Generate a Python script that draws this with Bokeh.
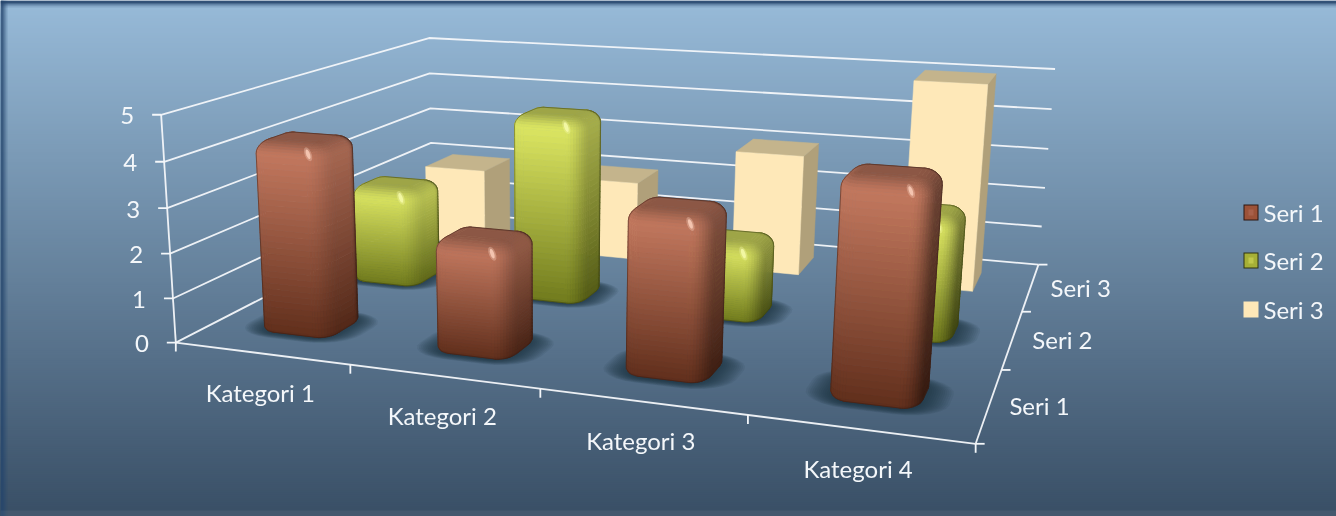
import numpy as np
from bokeh.plotting import figure
from bokeh.models import Range1d
from bokeh.core.properties import value
from bokeh.embed import file_html
from bokeh.resources import INLINE

categories = ["Kategori 1", "Kategori 2", "Kategori 3", "Kategori 4"]
series_names = ["Seri 1", "Seri 2", "Seri 3"]
seri_1 = [4.3, 2.5, 3.5, 4.5]
seri_2 = [2.4, 4.4, 1.8, 2.8]
seri_3 = [2.0, 2.0, 3.0, 5.0]
value_ticks = [0, 1, 2, 3, 4, 5]

FONT = "Lato"
FS = "24px"
WHITE = "#f4f7fa"

# camera calibration: (category, depth, value) -> page pixel
calib = [
    ((0, 0, 0), (175, 342)), ((1, 0, 0), (350, 364)), ((2, 0, 0), (540, 388)),
    ((3, 0, 0), (747, 415)), ((4, 0, 0), (975, 444)), ((4, 1, 0), (1002, 369)),
    ((4, 2, 0), (1021, 311)), ((4, 3, 0), (1037, 264)), ((0, 3, 0), (431, 212)),
    ((0, 0, 5), (160, 115)), ((0, 0, 4), (163, 162)), ((0, 0, 3), (167, 208)),
    ((0, 0, 2), (170, 252)), ((0, 0, 1), (173, 297)), ((0, 3, 5), (429, 37)),
    ((0, 3, 4), (429, 73)), ((0, 3, 3), (430, 107)), ((0, 3, 2), (431, 142)),
    ((4, 3, 5), (1054, 69)), ((4, 3, 4), (1051, 109)), ((4, 3, 3), (1048, 148)),
    ((4, 3, 2), (1045, 187)), ((4, 3, 1), (1042, 226)),
]
rows = []
for (x, z, y), (u, v) in calib:
    u, v = u / 1000, v / 1000
    rows.append([x, z, y, 1, 0, 0, 0, 0, -u * x, -u * z, -u * y, -u])
    rows.append([0, 0, 0, 0, x, z, y, 1, -v * x, -v * z, -v * y, -v])
_, _, vt = np.linalg.svd(np.array(rows, float))
M = vt[-1].reshape(3, 4)


def proj(x, z, y):
    q = M @ np.array([x, z, y, 1.0])
    return 1000 * q[0] / q[2], 1000 * q[1] / q[2]


def lerp(a, b, t):
    return tuple(a[i] + (b[i] - a[i]) * t for i in range(3))


def hexc(c):
    return "#%02x%02x%02x" % tuple(int(max(0, min(255, round(v)))) for v in c)


p = figure(width=1336, height=516, x_range=Range1d(0, 1336), y_range=Range1d(516, 0),
           output_backend="svg", toolbar_location=None, min_border=0,
           x_axis_type=None, y_axis_type=None, outline_line_color=None)
p.xgrid.visible = False
p.ygrid.visible = False
p.styles = {"position": "fixed", "left": "0", "top": "0"}

# background: each band runs to the page bottom, so no seams show
TOP = (150, 185, 215)
BOT = (58, 80, 103)
ys = np.arange(0, 516, 2)
p.quad(left=0, right=1336, top=ys, bottom=516,
       fill_color=[hexc(lerp(TOP, BOT, min(1, max(0, (y - 6) / 502)))) for y in ys], line_color=None)
# frame glow
FR = "#25466c"
for w, a in [(3, 0.55), (5, 0.35), (7, 0.2)]:
    p.quad(left=0, right=w, top=0, bottom=516, fill_color=FR, fill_alpha=a, line_color=None)
for w, a in [(3, 0.8), (5, 0.35), (7, 0.15)]:
    p.quad(left=0, right=1336, top=0, bottom=w, fill_color=FR, fill_alpha=a, line_color=None)
p.quad(left=0, right=1336, top=510, bottom=516, fill_color="#ffffff", fill_alpha=0.05, line_color=None)


def seg(a, b, w=1.8):
    ua, va = proj(*a)
    ub, vb = proj(*b)
    p.line([ua, ub], [va, vb], line_color=WHITE, line_width=w, line_alpha=0.95)


for v in value_ticks:
    pts = [proj(0, 0, v), proj(0, 3, v), proj(4, 3, v)]
    p.line([q[0] for q in pts], [q[1] for q in pts], line_color=WHITE, line_width=1.8, line_alpha=0.95)
    u0, v0 = pts[0]
    p.line([u0 - 9, u0], [v0, v0], line_color=WHITE, line_width=1.8)
    p.text([u0 - 27], [v0 + 1], text=[str(v)], text_font=value(FONT), text_font_size=FS,
           text_color=WHITE, text_align="right", text_baseline="middle")
seg((0, 0, 0), (0, 0, 5))
seg((0, 0, 0), (4, 0, 0))
seg((4, 0, 0), (4, 3, 0))
for i in range(5):
    u0, v0 = proj(i, 0, 0)
    p.line([u0, u0], [v0, v0 + 9], line_color=WHITE, line_width=1.8)
for i in range(4):
    u0, v0 = proj(4, i, 0)
    p.line([u0, u0 + 9], [v0, v0], line_color=WHITE, line_width=1.8)
for i, c in enumerate(categories):
    u0, v0 = proj(i + 0.5, 0, 0)
    p.text([u0 - 1], [v0 + 39], text=[c], text_font=value(FONT), text_font_size=FS, text_color=WHITE,
           text_align="center", text_baseline="middle")
for i, c in enumerate(series_names):
    u0, v0 = proj(4, i + 0.5, 0)
    p.text([u0 + 20], [v0 + 0.5], text=[c], text_font=value(FONT), text_font_size=FS, text_color=WHITE,
           text_align="left", text_baseline="middle")

# bar geometry
BW = 0.4
BD = 0.4
BEV_W = 0.425
RX = 0.09
RZ = 0.13
RY = 0.3
RB = 0.16
BASE = -0.08
PAL = {
    0: dict(top=(200, 124, 98), bot=(96, 46, 27), edge="#3a2018", spec=(250, 205, 185)),
    1: dict(top=(226, 236, 102), bot=(112, 122, 28), edge="#3c4210", spec=(246, 250, 170)),
}
CREAM = dict(front="#fee8b8", right="#b0a07a", top="#c4b48c")
values_by_series = [seri_1, seri_2, seri_3]


def ring(x0, x1, z0, z1, rx, rz, n=10):
    out = []
    corners = [(x1 - rx, z0 + rz, 0), (x1 - rx, z1 - rz, 90), (x0 + rx, z1 - rz, 180), (x0 + rx, z0 + rz, 270)]
    for cx, cz, a0 in corners:
        for k in range(n + 1):
            a = np.radians(a0 + 90 * k / n)
            out.append((cx, cz, np.sin(a), -np.cos(a)))
    return out


def hull(pts):
    pts = sorted(set(pts))

    def half(ps):
        h = []
        for q in ps:
            while len(h) > 1 and (h[-1][0] - h[-2][0]) * (q[1] - h[-2][1]) - (h[-1][1] - h[-2][1]) * (q[0] - h[-2][0]) <= 0:
                h.pop()
            h.append(q)
        return h[:-1]

    return half(pts) + half(pts[::-1])


def bevel_bar(ci, si, h):
    pal = PAL[si]
    cx, cz = ci + 0.5, si + 0.5
    x0, x1, z0, z1 = cx - BEV_W / 2, cx + BEV_W / 2, cz - BD / 2, cz + BD / 2
    h = h - 0.02
    rg = ring(x0, x1, z0, z1, RX, RZ)
    levels = []
    for t in np.linspace(-90, 0, 5):
        th = np.radians(t)
        levels.append((np.cos(th), BASE + RB * (1 + np.sin(th)), np.sin(th)))
    for y in np.linspace(BASE + RB, h - RY, 30)[1:-1]:
        levels.append((1.0, y, 0.0))
    for t in np.linspace(0, 90, 9):
        th = np.radians(t)
        levels.append((np.cos(th), h - RY + RY * np.sin(th), np.sin(th)))
    grid = [[proj(c[0] + RX * k * c[2], c[1] + RZ * k * c[3], y) for c in rg] for k, y, _ in levels]
    n = len(rg)

    def area(a, b, c, d):
        q = [a, b, c, d]
        return sum(q[i][0] * q[(i + 1) % 4][1] - q[(i + 1) % 4][0] * q[i][1] for i in range(4)) / 2

    jm = len(levels) // 2
    sign = np.sign(area(grid[jm][n - 1], grid[jm][0], grid[jm + 1][0], grid[jm + 1][n - 1]))
    right_w = 0.85 - 0.1 * ci
    xs, ys_, cols = [], [], []
    for j in range(len(levels) - 1):
        for i in range(n):
            i2 = (i + 1) % n
            A, B, C, D = grid[j][i], grid[j][i2], grid[j + 1][i2], grid[j + 1][i]
            if area(A, B, C, D) * sign <= 1e-6:
                continue
            nx = (rg[i][2] + rg[i2][2]) / 2
            nz = (rg[i][3] + rg[i2][3]) / 2
            ln = max(1e-6, (nx * nx + nz * nz) ** 0.5)
            nx, nz = nx / ln, nz / ln
            up = (levels[j][2] + levels[j + 1][2]) / 2
            cs = (1 - up * up)
            w = (cs * (nz * nz if nz < 0 else 0) * 1.0 + cs * (nx * nx if nx > 0 else 0) * right_w
                 + cs * (nx * nx if nx < 0 else 0) * 1.0
                 + (up * up if up > 0 else 0) * 0.70 + (up * up if up < 0 else 0) * 0.55)
            t = (levels[j][1] + levels[j + 1][1]) / 2 / h
            col = hexc(tuple(v * w for v in lerp(pal["bot"], pal["top"], t)))
            xs.append([A[0], B[0], C[0], D[0]])
            ys_.append([A[1], B[1], C[1], D[1]])
            cols.append(col)
    # flat top cap
    capxy = [proj(c[0], c[1], h) for c in rg]
    xs.append([q[0] for q in capxy])
    ys_.append([q[1] for q in capxy])
    cols.append(hexc(tuple(v * 0.70 for v in pal["top"])))
    p.patches(xs, ys_, fill_color=cols, line_color=cols, line_width=0.7)
    # silhouette
    allp = [q for row in grid for q in row]
    hp = hull(allp)
    p.patch([q[0] for q in hp] + [hp[0][0]], [q[1] for q in hp] + [hp[0][1]], fill_color=None,
            line_color=pal["edge"], line_width=1.0, line_alpha=0.5)
    # specular glint
    u, v = proj(x1 - RX * 1.15, z0 + RZ * 0.35, h - RY * 0.75)
    tt = np.linspace(0, 2 * np.pi, 18)
    for (ra, rb, al) in [(3.6, 7, 0.35), (2.0, 4.8, 0.85)]:
        ex = ra * np.cos(tt) + 0.3 * rb * np.sin(tt)
        ey = rb * np.sin(tt)
        p.patch(u + ex, v + ey, fill_color=hexc(pal["spec"]), fill_alpha=al, line_color=None)


def shadow(ci, si):
    cx, cz = ci + 0.5, si + 0.5
    for k in range(14):
        ex = 0.13 * k / 13
        ez = 0.07 * k / 13
        rg = ring(cx - BW / 2 - ex, cx + BW / 2 + ex, cz - BD / 2 - ez, cz + BD / 2 + ez, RX + ex, RZ + ez, n=6)
        pts = [proj(c[0] + (RX + ex) * c[2], c[1] + (RZ + ez) * c[3], 0) for c in rg]
        p.patch([q[0] for q in pts], [q[1] for q in pts], fill_color="#1b2a3c", fill_alpha=0.085, line_color=None)


def box_bar(ci, si, h):
    cx, cz = ci + 0.5, si + 0.5
    x0, x1, z0, z1 = cx - BW / 2, cx + BW / 2, cz - BD / 2, cz + BD / 2
    faces = [
        ([(x1, z0, 0), (x1, z1, 0), (x1, z1, h), (x1, z0, h)], CREAM["right"]),
        ([(x0, z0, h), (x1, z0, h), (x1, z1, h), (x0, z1, h)], CREAM["top"]),
        ([(x0, z0, 0), (x1, z0, 0), (x1, z0, h), (x0, z0, h)], CREAM["front"]),
    ]
    for f, col in faces:
        pts = [proj(*q) for q in f]
        p.patch([q[0] for q in pts], [q[1] for q in pts], fill_color=col, line_color=col, line_width=0.5)


for si in (0, 1):
    for ci in range(4):
        shadow(ci, si)
for si in (2, 1, 0):
    for ci in range(4):
        h = values_by_series[si][ci]
        if si == 2:
            box_bar(ci, si, h)
        else:
            bevel_bar(ci, si, h)

# legend
leg_y = [212, 260, 309]
leg_fill = ["#9c5238", "#a6b036", "#fee8b8"]
leg_edge = ["#2c1610", "#2e3210", "#fee8b8"]
leg_in = ["#a8604a", "#c0c84a", "#fee8b8"]
for y, nm, f, e, i_ in zip(leg_y, series_names, leg_fill, leg_edge, leg_in):
    p.quad(left=1243, right=1258, top=y - 8, bottom=y + 8, fill_color=e, line_color=None)
    p.quad(left=1244, right=1257, top=y - 7, bottom=y + 7, fill_color=f, line_color=None)
    p.quad(left=1248, right=1253, top=y - 3, bottom=y + 3, fill_color=i_, line_color=None)
    p.text([1263], [y], text=[nm], text_font=value(FONT), text_font_size=FS, text_color=WHITE,
           text_align="left", text_baseline="middle")

open("out.html", "w").write(file_html(p, INLINE))
